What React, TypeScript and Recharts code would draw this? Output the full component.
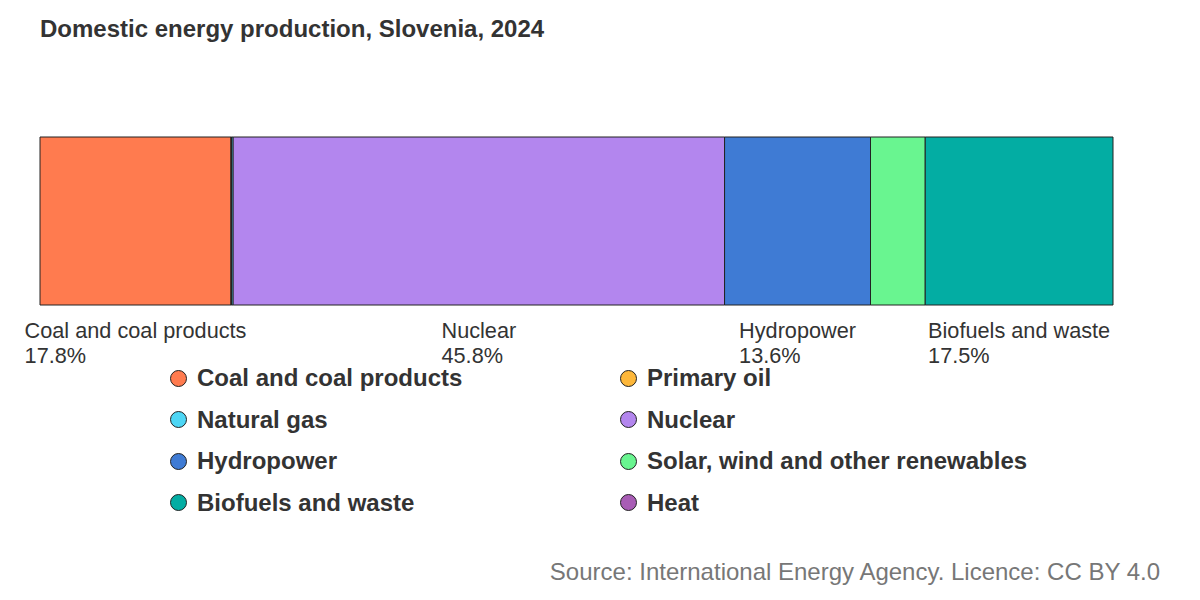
import React from 'react';
import { BarChart, Bar, XAxis, YAxis, LabelList } from 'recharts';

const series = [
  'Coal and coal products',
  'Primary oil',
  'Natural gas',
  'Nuclear',
  'Hydropower',
  'Solar, wind and other renewables',
  'Biofuels and waste',
  'Heat',
];
const shares = [17.8, 0.05, 0.15, 45.8, 13.6, 5.1, 17.5, 0];
const colors = ['#ff7b4f', '#fdb73a', '#4dd6f5', '#b386ee', '#3f7bd4', '#69f590', '#03ada3', '#a85cb5'];

const row: Record<string, string | number> = { name: 'Slovenia' };
series.forEach((s, i) => (row[s] = shares[i]));
const data = [row];

const FONT = '"Liberation Sans", Arial, sans-serif';
const LABEL_SIZE = 21.7;

let ctx: CanvasRenderingContext2D | null = null;
function measure(t: string) {
  if (!ctx) ctx = document.createElement('canvas').getContext('2d');
  if (!ctx) return t.length * 10;
  ctx.font = `${LABEL_SIZE}px ${FONT}`;
  return ctx.measureText(t).width;
}

const makeLabel = (name: string, value: number) => (props: any) => {
  const { x, y, width, height } = props;
  if (value < 10) return null;
  const cx = x + width / 2;
  const left = cx - measure(name) / 2;
  return (
    <text x={left} y={y + height + 33} fill="#333" fontSize={LABEL_SIZE} fontFamily={FONT}>
      <tspan x={left}>{name}</tspan>
      <tspan x={left} dy={25}>{value.toFixed(1)}%</tspan>
    </text>
  );
};

export default function App() {
  return (
    <div style={{ position: 'absolute', left: 0, top: 0, width: 1200, height: 600, background: '#fff', fontFamily: FONT }}>
      <div style={{ position: 'absolute', left: 40, top: 15, fontSize: 24, fontWeight: 'bold', color: '#333' }}>
        Domestic energy production, Slovenia, 2024
      </div>
      <div style={{ position: 'absolute', left: 0, top: 0 }}>
        <BarChart width={1200} height={400} data={data} layout="vertical" style={{ overflow: 'visible' }}
          margin={{ top: 137, bottom: 95, left: 40, right: 87 }} barCategoryGap={0}>
          <XAxis type="number" domain={[0, 100]} hide />
          <YAxis type="category" dataKey="name" hide />
          {series.map((s, i) => (
            <Bar key={s} dataKey={s} stackId="a" fill={colors[i]} stroke="#222" strokeWidth={1} isAnimationActive={false}>
              <LabelList dataKey={s} content={makeLabel(s, shares[i])} />
            </Bar>
          ))}
        </BarChart>
      </div>
      {series.map((s, i) => (
        <div key={s} style={{
          position: 'absolute', left: i % 2 === 0 ? 170 : 620, top: 364 + Math.floor(i / 2) * 41.5,
          display: 'flex', alignItems: 'center', fontSize: 24, fontWeight: 'bold', color: '#333',
        }}>
          <span style={{ width: 15, height: 15, borderRadius: '50%', background: colors[i], border: '1px solid #222', marginRight: 10, display: 'inline-block' }} />
          {s}
        </div>
      ))}
      <div style={{ position: 'absolute', right: 40, top: 558, fontSize: 24, color: '#777' }}>
        Source: International Energy Agency. Licence: CC BY 4.0
      </div>
    </div>
  );
}
